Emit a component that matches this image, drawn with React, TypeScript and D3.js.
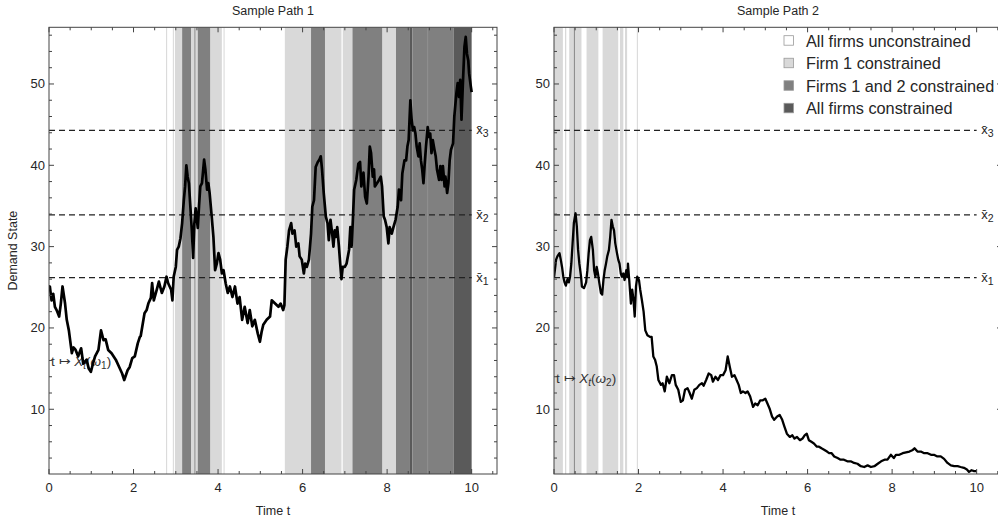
import * as d3 from "d3";

// thresholds x̄1, x̄2, x̄3
const thresholds = [26.2, 33.9, 44.3];
const thresholdSubs = ["1", "2", "3"];

// shading: 0 none, 1 firm 1, 2 firms 1+2, 3 all firms
const levelColors = ["#ffffff", "#d9d9d9", "#808080", "#5a5a5a"];
const legendLabels = [
  "All firms unconstrained",
  "Firm 1 constrained",
  "Firms 1 and 2 constrained",
  "All firms constrained",
];

const xMajorTicks = [0, 2, 4, 6, 8, 10];
const yMajorTicks = [10, 20, 30, 40, 50];

// [t0, t1, level]
const bands1 = [
  [2.77, 2.795, 1], [2.93, 2.955, 1], [2.98, 3.15, 1], [3.15, 3.36, 2],
  [3.36, 3.44, 1], [3.44, 3.47, 2], [3.47, 3.52, 1], [3.52, 3.82, 2],
  [3.82, 4.09, 1], [4.13, 4.155, 1], [5.58, 6.2, 1], [6.2, 6.53, 2],
  [6.53, 6.92, 1], [6.95, 7.18, 1], [7.18, 7.89, 2], [7.89, 8.21, 1],
  [8.21, 8.54, 2], [8.54, 8.6, 3], [8.6, 8.96, 2], [8.96, 8.985, 3],
  [8.985, 9.57, 2], [9.57, 10.0, 3],
];
const bands2 = [
  [0.0, 0.21, 1], [0.26, 0.29, 1], [0.36, 0.47, 1], [0.47, 0.495, 2],
  [0.495, 0.65, 1], [0.77, 1.05, 1], [1.15, 1.52, 1], [1.56, 1.64, 1],
  [1.68, 1.73, 1], [1.96, 1.985, 1],
];

// sample path 1 [t, X]
const path1 = [
  [0.0, 24.6], [0.02, 25.1], [0.06, 23.4], [0.1, 24.2], [0.14, 22.6], [0.18, 22.2],
  [0.24, 21.4], [0.28, 23.0], [0.32, 25.1], [0.38, 23.0], [0.42, 21.0], [0.47, 19.7],
  [0.54, 16.9], [0.58, 17.6], [0.63, 17.3], [0.69, 16.5], [0.76, 17.5], [0.81, 15.6],
  [0.89, 16.1], [0.94, 15.0], [0.99, 14.6], [1.04, 15.6], [1.09, 16.5], [1.17, 17.3],
  [1.23, 19.7], [1.29, 18.5], [1.34, 18.6], [1.4, 17.3], [1.48, 16.9], [1.58, 16.1],
  [1.66, 15.2], [1.73, 14.4], [1.78, 13.6], [1.86, 14.8], [1.91, 15.2], [1.97, 16.3],
  [2.03, 16.5], [2.1, 18.1], [2.15, 18.9], [2.17, 19.0], [2.26, 21.8], [2.31, 22.2],
  [2.35, 23.0], [2.41, 23.7], [2.44, 25.5], [2.48, 23.4], [2.55, 24.7], [2.6, 25.7],
  [2.67, 24.3], [2.73, 25.1], [2.78, 26.3], [2.82, 25.5], [2.89, 24.7], [2.92, 23.4],
  [2.95, 26.3], [3.0, 27.5], [3.03, 29.6], [3.07, 30.0], [3.11, 31.0], [3.15, 32.9],
  [3.19, 35.7], [3.22, 37.4], [3.25, 40.0], [3.28, 38.6], [3.31, 37.8], [3.34, 35.3],
  [3.38, 32.0], [3.41, 28.6], [3.44, 32.9], [3.47, 34.7], [3.52, 32.3], [3.55, 35.0],
  [3.58, 37.4], [3.62, 37.8], [3.67, 40.7], [3.7, 39.5], [3.74, 37.0], [3.77, 37.8],
  [3.8, 36.6], [3.85, 33.7], [3.89, 31.2], [3.93, 27.1], [3.97, 27.9], [4.01, 29.2],
  [4.05, 28.4], [4.09, 26.7], [4.13, 27.1], [4.18, 25.5], [4.23, 24.3], [4.28, 25.1],
  [4.34, 23.8], [4.4, 25.1], [4.46, 23.0], [4.51, 23.8], [4.57, 21.0], [4.63, 22.6],
  [4.7, 20.6], [4.75, 22.2], [4.81, 20.2], [4.87, 21.0], [4.94, 19.3], [4.99, 18.3],
  [5.03, 19.5], [5.07, 20.4], [5.15, 21.0], [5.23, 21.4], [5.27, 23.4], [5.35, 23.0],
  [5.43, 22.6], [5.48, 23.0], [5.54, 22.2], [5.57, 22.8], [5.6, 28.4], [5.64, 30.0],
  [5.68, 32.0], [5.73, 32.9], [5.76, 31.6], [5.81, 32.0], [5.85, 30.0], [5.9, 30.4],
  [5.93, 28.8], [5.98, 28.4], [6.03, 26.7], [6.06, 27.9], [6.1, 27.5], [6.15, 28.4],
  [6.2, 31.6], [6.23, 34.9], [6.27, 35.7], [6.31, 39.8], [6.36, 40.4], [6.4, 40.7],
  [6.43, 41.1], [6.46, 39.5], [6.5, 36.6], [6.55, 33.7], [6.59, 32.9], [6.62, 30.8],
  [6.66, 33.3], [6.7, 31.6], [6.73, 30.0], [6.76, 32.0], [6.79, 31.2], [6.82, 32.4],
  [6.86, 30.0], [6.89, 27.9], [6.92, 26.0], [6.95, 27.5], [7.0, 27.5], [7.04, 27.9],
  [7.1, 29.6], [7.13, 32.4], [7.16, 30.0], [7.19, 33.3], [7.22, 37.0], [7.27, 38.2],
  [7.32, 40.2], [7.36, 40.4], [7.39, 37.4], [7.44, 39.1], [7.48, 36.1], [7.52, 35.3],
  [7.56, 38.6], [7.59, 42.3], [7.62, 41.5], [7.66, 38.6], [7.69, 39.5], [7.71, 37.4],
  [7.76, 37.8], [7.81, 38.2], [7.85, 38.6], [7.88, 37.4], [7.92, 33.7], [7.95, 33.3],
  [7.99, 32.4], [8.03, 30.4], [8.06, 32.4], [8.11, 31.6], [8.15, 32.4], [8.2, 33.3],
  [8.25, 34.9], [8.28, 37.0], [8.33, 35.7], [8.36, 39.0], [8.41, 40.6], [8.45, 40.6],
  [8.48, 42.3], [8.51, 43.1], [8.55, 48.0], [8.58, 45.6], [8.61, 44.3], [8.64, 44.7],
  [8.67, 43.9], [8.7, 42.3], [8.74, 41.1], [8.77, 42.7], [8.8, 40.6], [8.83, 39.5],
  [8.86, 37.8], [8.89, 40.2], [8.92, 42.3], [8.96, 44.7], [8.99, 43.5], [9.02, 43.9],
  [9.05, 41.5], [9.08, 43.1], [9.12, 41.9], [9.15, 41.1], [9.18, 39.5], [9.23, 38.2],
  [9.26, 39.9], [9.29, 38.2], [9.32, 39.9], [9.36, 37.4], [9.38, 38.6], [9.42, 36.6],
  [9.45, 37.8], [9.48, 40.6], [9.51, 41.9], [9.56, 42.7], [9.59, 46.0], [9.64, 48.9],
  [9.67, 50.1], [9.7, 48.4], [9.73, 50.5], [9.76, 45.6], [9.79, 49.7], [9.83, 54.6],
  [9.86, 55.8], [9.89, 53.7], [9.92, 52.9], [9.94, 51.3], [9.98, 49.7], [10.0, 49.0],
];

// sample path 2 [t, X]
const path2 = [
  [0.0, 26.2], [0.05, 28.4], [0.08, 28.8], [0.13, 29.2], [0.16, 28.4], [0.19, 27.5],
  [0.22, 26.3], [0.25, 25.6], [0.28, 25.2], [0.32, 26.0], [0.35, 25.6], [0.38, 26.3],
  [0.41, 27.9], [0.44, 30.4], [0.47, 32.9], [0.51, 34.1], [0.54, 32.5], [0.57, 29.6],
  [0.6, 27.9], [0.64, 26.3], [0.66, 25.1], [0.71, 24.9], [0.76, 25.6], [0.79, 27.1],
  [0.82, 29.2], [0.85, 30.8], [0.88, 31.2], [0.92, 29.6], [0.95, 27.1], [0.98, 26.3],
  [1.01, 27.5], [1.04, 26.7], [1.07, 25.6], [1.11, 24.3], [1.14, 24.1], [1.17, 25.9],
  [1.2, 27.1], [1.23, 27.9], [1.26, 28.8], [1.3, 29.6], [1.33, 31.2], [1.36, 33.3],
  [1.39, 32.5], [1.42, 32.0], [1.45, 30.4], [1.49, 29.2], [1.52, 28.4], [1.55, 27.9],
  [1.58, 26.7], [1.61, 26.3], [1.64, 26.7], [1.67, 25.9], [1.71, 27.1], [1.74, 26.3],
  [1.75, 27.9], [1.78, 25.9], [1.82, 23.0], [1.85, 24.7], [1.88, 23.5], [1.91, 21.4],
  [1.94, 25.1], [1.97, 26.3], [2.01, 25.9], [2.04, 24.7], [2.08, 23.4], [2.12, 22.0],
  [2.16, 19.7], [2.21, 19.1], [2.27, 18.9], [2.31, 18.9], [2.35, 16.5], [2.39, 16.1],
  [2.43, 15.3], [2.47, 13.6], [2.53, 13.0], [2.57, 13.2], [2.62, 12.2], [2.67, 14.0],
  [2.73, 13.2], [2.79, 14.2], [2.84, 14.2], [2.88, 13.0], [2.94, 12.4], [3.0, 10.9],
  [3.05, 11.1], [3.1, 12.4], [3.16, 12.6], [3.21, 12.0], [3.26, 11.3], [3.32, 12.4],
  [3.38, 12.6], [3.44, 13.0], [3.5, 13.2], [3.54, 12.9], [3.6, 13.6], [3.66, 14.4],
  [3.72, 14.2], [3.76, 13.4], [3.82, 14.0], [3.88, 13.6], [3.94, 14.2], [4.0, 14.2],
  [4.06, 14.8], [4.11, 16.5], [4.16, 15.2], [4.21, 14.0], [4.27, 14.2], [4.32, 13.6],
  [4.37, 13.0], [4.42, 12.0], [4.47, 12.2], [4.53, 12.0], [4.58, 12.2], [4.64, 11.6],
  [4.71, 10.3], [4.76, 10.7], [4.82, 10.5], [4.88, 11.1], [4.94, 11.1], [5.0, 11.3],
  [5.05, 10.7], [5.1, 10.1], [5.16, 9.1], [5.21, 8.7], [5.28, 9.1], [5.34, 9.3],
  [5.4, 8.7], [5.45, 7.9], [5.51, 7.0], [5.58, 6.6], [5.64, 6.8], [5.69, 6.4],
  [5.75, 6.6], [5.82, 6.2], [5.88, 6.4], [5.93, 6.8], [5.98, 7.0], [6.03, 6.2],
  [6.09, 6.0], [6.15, 5.8], [6.22, 5.4], [6.27, 5.4], [6.33, 5.2], [6.4, 5.0],
  [6.46, 4.8], [6.51, 4.6], [6.57, 4.6], [6.63, 4.2], [6.71, 4.0], [6.78, 3.8],
  [6.86, 3.8], [6.94, 3.6], [7.02, 3.6], [7.1, 3.4], [7.18, 3.3], [7.26, 3.0],
  [7.34, 2.9], [7.42, 3.1], [7.5, 2.9], [7.58, 3.0], [7.66, 3.3], [7.74, 3.6],
  [7.82, 3.8], [7.89, 3.8], [7.97, 4.4], [8.04, 4.0], [8.09, 4.4], [8.17, 4.4],
  [8.25, 4.6], [8.33, 4.7], [8.41, 4.8], [8.49, 5.0], [8.53, 5.2], [8.6, 4.8],
  [8.68, 4.8], [8.76, 4.6], [8.84, 4.6], [8.92, 4.4], [8.99, 4.4], [9.07, 4.2],
  [9.15, 4.2], [9.23, 3.9], [9.31, 3.4], [9.39, 3.1], [9.47, 3.0], [9.55, 3.0],
  [9.62, 2.9], [9.7, 2.8], [9.77, 2.6], [9.82, 2.3], [9.88, 2.5], [9.94, 2.4],
  [10.0, 2.4],
];

const font = "'Liberation Sans', Arial, sans-serif";
const textCol = "#262626";
const frameCol = "#444";
const top = 27.3;
const bottom = 474;
const plotW = 448;

function Panel(props: any) {
  const { x0, title, path, bands, omega, labelV, yLabel, id, lineWidth } = props;
  const xScale = d3.scaleLinear().domain([0, 10.6]).range([x0, x0 + plotW]);
  const yScale = d3.scaleLinear().domain([2.04, 56.97]).range([bottom, top]);
  const line = d3
    .line<number[]>()
    .x((d) => xScale(d[0]))
    .y((d) => yScale(d[1]));
  const xMinor = d3.range(0, 10.6, 0.5).filter((t) => t % 2 !== 0);
  const yMinor = d3.range(4, 57, 2).filter((v) => v % 10 !== 0);
  const x1 = x0 + plotW;
  const cx = x0 + plotW / 2;

  return (
    <g>
      <defs>
        <clipPath id={id}>
          <rect x={x0} y={top} width={plotW} height={bottom - top} />
        </clipPath>
      </defs>
      <g clipPath={`url(#${id})`}>
        {bands.map((b: number[], i: number) => (
          <rect
            key={i}
            x={xScale(b[0])}
            y={top}
            width={Math.max(1, xScale(b[1]) - xScale(b[0]))}
            height={bottom - top}
            fill={levelColors[b[2]]}
          />
        ))}
        {thresholds.map((v) => (
          <line
            key={v}
            x1={xScale(0)}
            x2={xScale(10)}
            y1={yScale(v)}
            y2={yScale(v)}
            stroke="#222"
            strokeWidth={1.2}
            strokeDasharray="6,4"
          />
        ))}
        <text
          x={x0 + 2}
          y={yScale(labelV)}
          fontFamily={font}
          fontSize={13.5}
          fill="#333"
        >
          t ↦ <tspan fontStyle="italic">X</tspan>
          <tspan fontStyle="italic" fontSize={10} dy={3}>t</tspan>
          <tspan dy={-3}>(</tspan>
          <tspan fontStyle="italic">ω</tspan>
          <tspan fontSize={10} dy={3}>{omega}</tspan>
          <tspan dy={-3}>)</tspan>
        </text>
        <path
          d={line(path as any) || ""}
          fill="none"
          stroke="#000"
          strokeWidth={lineWidth}
          strokeLinejoin="round"
        />
      </g>
      {/* threshold labels */}
      {thresholds.map((v, i) => (
        <text
          key={v}
          x={xScale(10) + 4.5}
          y={yScale(v) + 4}
          fontFamily={font}
          fontSize={13}
          fill={textCol}
        >
          {"x\u0304"}
          <tspan fontSize={10.5} dy={3}>{thresholdSubs[i]}</tspan>
        </text>
      ))}
      {/* frame */}
      <rect
        x={x0}
        y={top}
        width={plotW}
        height={bottom - top}
        fill="none"
        stroke={frameCol}
        strokeWidth={1}
      />
      {xMajorTicks.map((t) => (
        <g key={t}>
          <line x1={xScale(t)} x2={xScale(t)} y1={bottom} y2={bottom - 5} stroke={frameCol} />
          <line x1={xScale(t)} x2={xScale(t)} y1={top} y2={top + 5} stroke={frameCol} />
          <text
            x={xScale(t)}
            y={492}
            textAnchor="middle"
            fontFamily={font}
            fontSize={13}
            fill={textCol}
          >
            {t}
          </text>
        </g>
      ))}
      {xMinor.map((t) => (
        <g key={t}>
          <line x1={xScale(t)} x2={xScale(t)} y1={bottom} y2={bottom - 3} stroke={frameCol} />
          <line x1={xScale(t)} x2={xScale(t)} y1={top} y2={top + 3} stroke={frameCol} />
        </g>
      ))}
      {yMajorTicks.map((v) => (
        <g key={v}>
          <line x1={x0} x2={x0 + 5} y1={yScale(v)} y2={yScale(v)} stroke={frameCol} />
          <line x1={x1} x2={x1 - 5} y1={yScale(v)} y2={yScale(v)} stroke={frameCol} />
          <text
            x={x0 - 4}
            y={yScale(v) + 4.5}
            textAnchor="end"
            fontFamily={font}
            fontSize={13}
            fill={textCol}
          >
            {v}
          </text>
        </g>
      ))}
      {yMinor.map((v) => (
        <g key={v}>
          <line x1={x0} x2={x0 + 3} y1={yScale(v)} y2={yScale(v)} stroke={frameCol} />
          <line x1={x1} x2={x1 - 3} y1={yScale(v)} y2={yScale(v)} stroke={frameCol} />
        </g>
      ))}
      <text
        x={cx}
        y={15}
        textAnchor="middle"
        fontFamily={font}
        fontSize={12.5}
        fill={textCol}
      >
        {title}
      </text>
      <text
        x={cx}
        y={515}
        textAnchor="middle"
        fontFamily={font}
        fontSize={12.5}
        fill={textCol}
      >
        Time t
      </text>
      {yLabel && (
        <text
          transform={`translate(17 ${(top + bottom) / 2}) rotate(-90)`}
          textAnchor="middle"
          fontFamily={font}
          fontSize={12.5}
          fill={textCol}
        >
          Demand State
        </text>
      )}
    </g>
  );
}

function Legend() {
  const rowY = d3.scaleLinear().domain([0, 3]).range([40.7, 108.3]);
  return (
    <g>
      {legendLabels.map((label, i) => (
        <g key={label}>
          <rect
            x={784}
            y={rowY(i) - 5}
            width={9.5}
            height={9.5}
            fill={levelColors[i]}
            stroke="#999"
            strokeWidth={0.8}
          />
          <text
            x={806}
            y={rowY(i) + 5.8}
            fontFamily={font}
            fontSize={16.3}
            fill={textCol}
          >
            {label}
          </text>
        </g>
      ))}
    </g>
  );
}

export default function App() {
  return (
    <svg
      width={998}
      height={520}
      style={{ position: "absolute", left: 0, top: 0, background: "#fff" }}
    >
      <rect width={998} height={520} fill="#fff" />
      <Panel
        id="clip1"
        x0={49}
        title="Sample Path 1"
        path={path1}
        bands={bands1}
        omega="1"
        labelV={15.3}
        lineWidth={2.7}
        yLabel
      />
      <Panel
        id="clip2"
        x0={554}
        title="Sample Path 2"
        path={path2}
        bands={bands2}
        omega="2"
        labelV={13.2}
        lineWidth={2.3}
      />
      <Legend />
    </svg>
  );
}
